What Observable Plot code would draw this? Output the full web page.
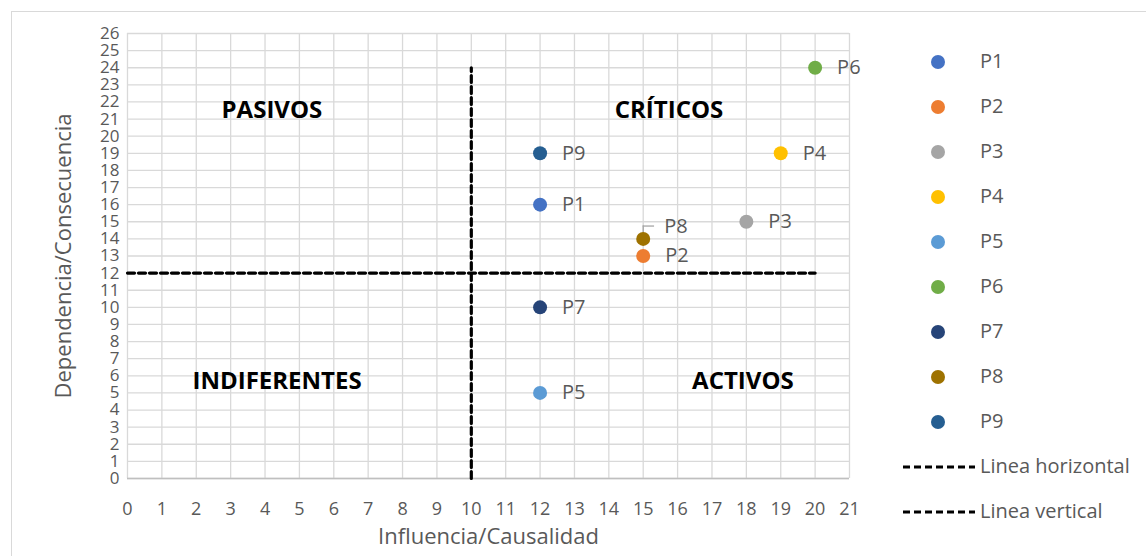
<!DOCTYPE html>
<html>
<head>
<meta charset="utf-8">
<script src="https://cdn.jsdelivr.net/npm/d3@7"></script>
<script src="https://cdn.jsdelivr.net/npm/@observablehq/plot@0.6"></script>
<style>
  html, body { margin: 0; padding: 0; background: #fff; }
  #wrap { position: relative; width: 1146px; height: 556px; overflow: hidden; font-family: "Open Sans", sans-serif; }
  #border { position: absolute; left: 11px; top: 11px; width: 1150px; height: 560px; border: 1px solid #d9d9d9; box-sizing: border-box; }
  #chart { position: absolute; left: 0; top: 0; }
  #legend { position: absolute; left: 0; top: 0; width: 1146px; height: 556px; pointer-events: none; }
  .li { position: absolute; color: #595959; font-size: 20px; line-height: 22px; white-space: nowrap; }
</style>
</head>
<body>
<div id="wrap">
  <div id="border"></div>
  <div id="chart"></div>
  <div id="legend"></div>
</div>
<script>
// Data
const names = ["P1", "P2", "P3", "P4", "P5", "P6", "P7", "P8", "P9"];
const influencia = [12, 15, 18, 19, 12, 20, 12, 15, 12];
const dependencia = [16, 13, 15, 19, 5, 24, 10, 14, 19];
const colors = ["#4472C4", "#ED7D31", "#A5A5A5", "#FFC000", "#5B9BD5", "#70AD47", "#264478", "#9E7200", "#255E91"];

const xTicks = d3.range(0, 22);
const yTicks = d3.range(0, 27);

// Reference lines
const lineaHorizontal = { x: [0, 20], y: [12, 12] };
const lineaVertical = { x: [10, 10], y: [0, 24] };

const quadrants = ["PASIVOS", "CRÍTICOS", "INDIFERENTES", "ACTIVOS"];
const quadX = [4.2, 15.75, 4.35, 17.9];
const quadY = [21.5, 21.5, 5.7, 5.7];

const points = names.map((n, i) => ({ name: n, x: influencia[i], y: dependencia[i], color: colors[i] }));
const hLine = lineaHorizontal.x.map((x, i) => ({ x, y: lineaHorizontal.y[i] }));
const vLine = lineaVertical.x.map((x, i) => ({ x, y: lineaVertical.y[i] }));
const quads = quadrants.map((q, i) => ({ q, x: quadX[i], y: quadY[i] }));

const p8 = points.find(d => d.name === "P8");
const others = points.filter(d => d.name !== "P8");

const chart = Plot.plot({
  width: 1146,
  height: 556,
  marginLeft: 127,
  marginRight: 297,
  marginTop: 33,
  marginBottom: 78,
  style: { fontFamily: "Open Sans, sans-serif", fontSize: "17px", color: "#595959", background: "transparent" },
  x: { domain: [0, 21], ticks: xTicks, tickSize: 0, tickPadding: 24, label: null },
  y: { domain: [0, 26], ticks: yTicks, tickSize: 0, tickPadding: 8, label: null },
  marks: [
    Plot.gridX(xTicks, { stroke: "#d9d9d9", strokeOpacity: 1, strokeWidth: 1.3 }),
    Plot.gridY(yTicks, { stroke: "#d9d9d9", strokeOpacity: 1, strokeWidth: 1.3 }),
    Plot.ruleY([0], { stroke: "#bfbfbf", strokeWidth: 1.3 }),
    Plot.axisX({ ticks: xTicks, tickSize: 0, tickPadding: 24, fill: "#595959", fontSize: 18 }),
    Plot.axisY({ ticks: yTicks, tickSize: 0, tickPadding: 8, fill: "#595959", fontSize: 17 }),
    Plot.line(hLine, { x: "x", y: "y", stroke: "black", strokeWidth: 3.2, strokeDasharray: "7,4" }),
    Plot.line(vLine, { x: "x", y: "y", stroke: "black", strokeWidth: 3.2, strokeDasharray: "7,4" }),
    Plot.text(quads, { x: "x", y: "y", text: "q", fontSize: 24, fontWeight: "bold", fill: "black" }),
    // leader line for P8
    Plot.ruleX([p8], { x: "x", y1: "y", y2: d => d.y + 0.75, stroke: "#a6a6a6", strokeWidth: 1.3 }),
    Plot.ruleY([p8], { y: d => d.y + 0.75, x1: "x", x2: d => d.x + 0.33, stroke: "#a6a6a6", strokeWidth: 1.3 }),
    Plot.dot(points, { x: "x", y: "y", r: 7, fill: "color", stroke: null }),
    Plot.text(others, { x: "x", y: "y", text: "name", dx: 22, textAnchor: "start", fill: "#595959", fontSize: 20 }),
    Plot.text([p8], { x: "x", y: "y", text: "name", dx: 21, dy: -12, textAnchor: "start", fill: "#595959", fontSize: 20 }),
    Plot.text(["Influencia/Causalidad"], { frameAnchor: "bottom", dy: 65, text: d => d, fontSize: 22, fill: "#595959" }),
    Plot.text(["Dependencia/Consecuencia"], { frameAnchor: "left", textAnchor: "middle", dx: -64, rotate: -90, text: d => d, fontSize: 22, fill: "#595959" })
  ]
});
document.getElementById("chart").appendChild(chart);

// Legend
const legend = document.getElementById("legend");
const rowY0 = 62, rowStep = 45;
names.forEach((n, i) => {
  const y = rowY0 + i * rowStep;
  const dot = document.createElement("div");
  dot.style.cssText = `position:absolute;left:${938 - 7}px;top:${y - 7}px;width:14px;height:14px;border-radius:50%;background:${colors[i]}`;
  legend.appendChild(dot);
  const t = document.createElement("div");
  t.className = "li";
  t.style.left = "980px";
  t.style.top = (y - 12) + "px";
  t.textContent = n;
  legend.appendChild(t);
});
["Linea horizontal", "Linea vertical"].forEach((n, j) => {
  const y = rowY0 + (names.length + j) * rowStep;
  const svgNS = "http://www.w3.org/2000/svg";
  const s = document.createElementNS(svgNS, "svg");
  s.setAttribute("width", 74); s.setAttribute("height", 6);
  s.style.cssText = `position:absolute;left:902px;top:${y - 3}px`;
  const l = document.createElementNS(svgNS, "line");
  l.setAttribute("x1", 1); l.setAttribute("x2", 73); l.setAttribute("y1", 3); l.setAttribute("y2", 3);
  l.setAttribute("stroke", "black"); l.setAttribute("stroke-width", 3.2); l.setAttribute("stroke-dasharray", "7,4");
  s.appendChild(l);
  legend.appendChild(s);
  const t = document.createElement("div");
  t.className = "li";
  t.style.left = "980px";
  t.style.top = (y - 12) + "px";
  t.textContent = n;
  legend.appendChild(t);
});
</script>
</body>
</html>
